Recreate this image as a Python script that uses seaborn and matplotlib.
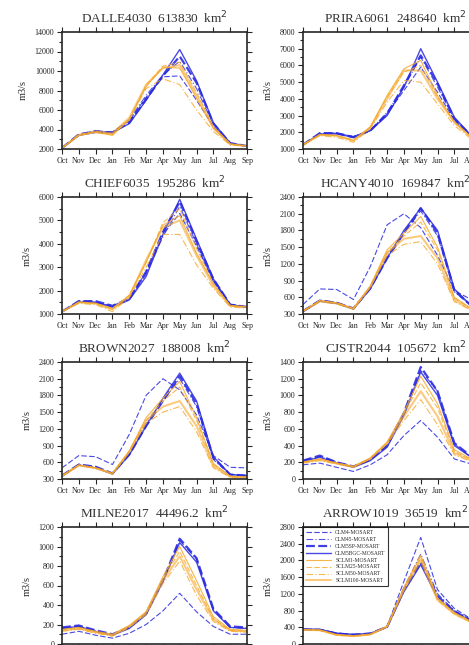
import numpy as np
import pandas as pd
import seaborn as sns
import matplotlib.pyplot as plt
from matplotlib.ticker import MultipleLocator, AutoMinorLocator

months = ['Oct', 'Nov', 'Dec', 'Jan', 'Feb', 'Mar', 'Apr', 'May', 'Jun', 'Jul', 'Aug', 'Sep']
runs = ['CLM4-MOSART', 'CLM45-MOSART', 'CLM5SP-MOSART', 'CLM5BGC-MOSART',
        'SCLM1-MOSART', 'SCLM25-MOSART', 'SCLM50-MOSART', 'SCLM100-MOSART']

# station titles
titles = ['DALLE4030  613830  km$^2$', 'PRIRA6061  248640  km$^2$',
          'CHIEF6035  195286  km$^2$', 'HCANY4010  169847  km$^2$',
          'BROWN2027  188008  km$^2$', 'CJSTR2044  105672  km$^2$',
          'MILNE2017  44496.2  km$^2$', 'ARROW1019  36519  km$^2$']

# monthly flow (m3/s), one row per run
dalle = [[2100, 3400, 3800, 3700, 4900, 7300, 9400, 9500, 7000, 4300, 2500, 2300],
         [2100, 3500, 3900, 3700, 5000, 7500, 9600, 11000, 8200, 4500, 2600, 2300],
         [2100, 3500, 3800, 3700, 4700, 7100, 9500, 11500, 8800, 4600, 2600, 2300],
         [2100, 3400, 3700, 3700, 4600, 7000, 9600, 12200, 9000, 4700, 2600, 2300],
         [2100, 3400, 3700, 3400, 5000, 8400, 10400, 10300, 7200, 4100, 2500, 2300],
         [2100, 3500, 3800, 3500, 5100, 8500, 10500, 10900, 7800, 4300, 2500, 2300],
         [2100, 3400, 3700, 3500, 5000, 8200, 9200, 8600, 6000, 3800, 2400, 2300],
         [2100, 3400, 3800, 3600, 5200, 8600, 10300, 10600, 7500, 4200, 2500, 2300]]
prira = [[1250, 1900, 1950, 1750, 2100, 3100, 4500, 5900, 4400, 2700, 1800, 1300],
         [1250, 1900, 1950, 1750, 2100, 3200, 4700, 6500, 4700, 2800, 1800, 1300],
         [1250, 1950, 1950, 1700, 2100, 3100, 4800, 6600, 4900, 2800, 1800, 1300],
         [1250, 1900, 1900, 1700, 2100, 3000, 4700, 7000, 5000, 2900, 1800, 1300],
         [1250, 1850, 1800, 1500, 2300, 4200, 5800, 6300, 4200, 2600, 1700, 1300],
         [1250, 1850, 1800, 1550, 2300, 4100, 5600, 6000, 4100, 2600, 1700, 1300],
         [1250, 1800, 1700, 1400, 2200, 3800, 5100, 5000, 3700, 2400, 1600, 1250],
         [1250, 1850, 1800, 1500, 2300, 4000, 5700, 5700, 4000, 2600, 1700, 1300]]
chief = [[1100, 1550, 1500, 1350, 1650, 2800, 4400, 5300, 3900, 2400, 1400, 1300],
         [1100, 1550, 1500, 1300, 1600, 2700, 4300, 5600, 4000, 2400, 1400, 1300],
         [1100, 1550, 1550, 1350, 1650, 2800, 4500, 5800, 4100, 2500, 1400, 1300],
         [1100, 1500, 1500, 1300, 1600, 2600, 4400, 5900, 4200, 2500, 1400, 1300],
         [1100, 1500, 1450, 1200, 1800, 3200, 4800, 5200, 3600, 2300, 1350, 1300],
         [1100, 1500, 1450, 1250, 1800, 3200, 4900, 5500, 3800, 2300, 1350, 1300],
         [1100, 1450, 1400, 1100, 1700, 3000, 4400, 4400, 3100, 2100, 1300, 1250],
         [1100, 1500, 1450, 1200, 1750, 3300, 4700, 5000, 3500, 2200, 1350, 1300]]
hcany = [[470, 750, 740, 560, 1150, 1900, 2100, 1850, 1350, 720, 560, 430],
         [360, 550, 510, 400, 780, 1350, 1750, 2150, 1700, 700, 450, 400],
         [350, 540, 500, 400, 760, 1300, 1750, 2200, 1750, 720, 450, 400],
         [340, 530, 490, 390, 750, 1300, 1800, 2200, 1800, 750, 450, 400],
         [350, 540, 500, 400, 800, 1450, 1750, 2050, 1500, 600, 400, 350],
         [350, 540, 500, 400, 800, 1400, 1700, 1950, 1450, 580, 400, 350],
         [350, 520, 480, 390, 780, 1350, 1550, 1600, 1200, 520, 370, 340],
         [350, 530, 490, 390, 790, 1400, 1650, 1700, 1300, 550, 380, 340]]
brown = [[500, 720, 700, 560, 1100, 1800, 2100, 1900, 1450, 720, 510, 500],
         [360, 560, 510, 400, 760, 1300, 1700, 2100, 1600, 650, 380, 360],
         [360, 560, 520, 400, 740, 1250, 1700, 2150, 1650, 680, 380, 360],
         [350, 550, 500, 390, 730, 1250, 1750, 2200, 1700, 700, 380, 360],
         [360, 550, 500, 400, 800, 1400, 1750, 2050, 1400, 580, 350, 330],
         [360, 550, 500, 400, 800, 1350, 1700, 1950, 1350, 560, 350, 330],
         [350, 540, 490, 390, 780, 1300, 1500, 1600, 1150, 500, 330, 320],
         [350, 545, 495, 395, 790, 1350, 1600, 1700, 1250, 530, 340, 325]]
cjstr = [[170, 190, 140, 90, 170, 290, 520, 700, 500, 240, 180, 160],
         [220, 270, 200, 150, 230, 400, 780, 1300, 1050, 420, 260, 220],
         [220, 280, 200, 150, 230, 400, 790, 1340, 1050, 430, 270, 230],
         [210, 260, 190, 140, 220, 380, 760, 1280, 1000, 400, 260, 220],
         [200, 240, 190, 150, 250, 440, 800, 1230, 900, 350, 240, 200],
         [200, 240, 190, 150, 250, 440, 780, 1150, 850, 330, 230, 200],
         [190, 220, 180, 140, 240, 420, 700, 950, 650, 290, 210, 190],
         [200, 230, 185, 145, 245, 430, 750, 1050, 750, 310, 220, 195]]
milne = [[100, 130, 90, 60, 110, 200, 340, 520, 330, 180, 100, 100],
         [160, 180, 130, 100, 170, 310, 640, 1060, 870, 350, 170, 160],
         [170, 190, 140, 100, 170, 310, 650, 1080, 880, 360, 180, 170],
         [160, 180, 130, 90, 160, 300, 640, 1040, 840, 340, 170, 160],
         [150, 170, 130, 100, 190, 330, 690, 1000, 650, 280, 150, 140],
         [140, 160, 120, 90, 180, 320, 670, 950, 600, 260, 140, 130],
         [130, 150, 110, 80, 170, 300, 620, 850, 500, 230, 130, 120],
         [140, 160, 120, 90, 180, 320, 650, 900, 560, 250, 140, 130]]
arrow = [[360, 350, 250, 210, 240, 420, 1500, 2550, 1300, 850, 600, 450],
         [350, 340, 260, 230, 260, 420, 1350, 2150, 1200, 800, 580, 440],
         [350, 340, 250, 220, 250, 410, 1300, 1950, 1150, 780, 560, 430],
         [350, 350, 260, 230, 250, 400, 1250, 1900, 1100, 770, 550, 420],
         [340, 330, 220, 190, 230, 420, 1350, 2100, 1100, 750, 540, 420],
         [340, 330, 210, 180, 220, 410, 1300, 2050, 1050, 720, 520, 410],
         [340, 330, 220, 190, 230, 420, 1350, 2150, 1100, 750, 540, 420],
         [340, 330, 220, 190, 230, 420, 1300, 2000, 1050, 720, 520, 410]]

stations = [dalle, prira, chief, hcany, brown, cjstr, milne, arrow]
ylims = [(2000, 14000), (1000, 8000), (1000, 6000), (300, 2400),
         (300, 2400), (0, 1400), (0, 1200), (0, 2800)]
ysteps = [2000, 1000, 1000, 300, 300, 200, 200, 400]

# line look for each run
colors = ['#2a2ae0'] * 4 + ['#f5a82a'] * 4
styles = [(0, (5, 2)), (0, (6, 2, 1, 2)), (0, (4, 1.5)), '-',
          '-', (0, (5, 2)), (0, (6, 2, 1, 2)), '-']
widths = [0.8, 0.8, 1.6, 1.0, 0.8, 0.8, 0.8, 1.5]
alphas = [0.85, 0.8, 0.9, 0.85, 0.85, 0.8, 0.8, 0.6]

sns.set_style("ticks")
plt.rcParams['font.family'] = ['Liberation Serif', 'DejaVu Serif']

W, H = 469, 645
fig = plt.figure(figsize=(W / 100, H / 100), dpi=100)

x_lefts = [62, 303]
y_tops = [32, 197, 362, 527]
aw, ah = 185, 117

x = np.arange(12)
for i, data in enumerate(stations):
    r, c = divmod(i, 2)
    ax = fig.add_axes([x_lefts[c] / W, 1 - (y_tops[r] + ah) / H, aw / W, ah / H])
    for k in range(8):
        sns.lineplot(x=x, y=data[k], ax=ax, color=colors[k], linestyle=styles[k],
                     lw=widths[k], alpha=alphas[k], label=runs[k])
    ax.set_xlim(0, 11)
    ax.set_ylim(*ylims[i])
    ax.set_xticks(x)
    ax.set_xticklabels(months)
    ax.yaxis.set_major_locator(MultipleLocator(ysteps[i]))
    ax.yaxis.set_minor_locator(AutoMinorLocator(2))
    ax.tick_params(which='both', direction='out', top=True, right=True,
                   labeltop=False, labelright=False, width=0.8)
    ax.tick_params(which='major', length=3.5, labelsize=5.8, pad=2)
    ax.tick_params(which='minor', length=2)
    for s in ax.spines.values():
        s.set_linewidth(1.2)
    ax.set_xlabel('')
    ax.set_ylabel('m3/s', fontsize=7.5, labelpad=5)
    ax.set_title(titles[i], fontsize=9.5, pad=6, color='#333333')
    if i == 7:
        leg = ax.legend(loc='upper left', fontsize=4, frameon=True, fancybox=False,
                        borderaxespad=0, handlelength=4.5, labelspacing=0.35,
                        borderpad=0.5)
        leg.get_frame().set_edgecolor('black')
        leg.get_frame().set_linewidth(0.8)
    else:
        ax.get_legend().remove()

fig.savefig('out.png', dpi=100)
